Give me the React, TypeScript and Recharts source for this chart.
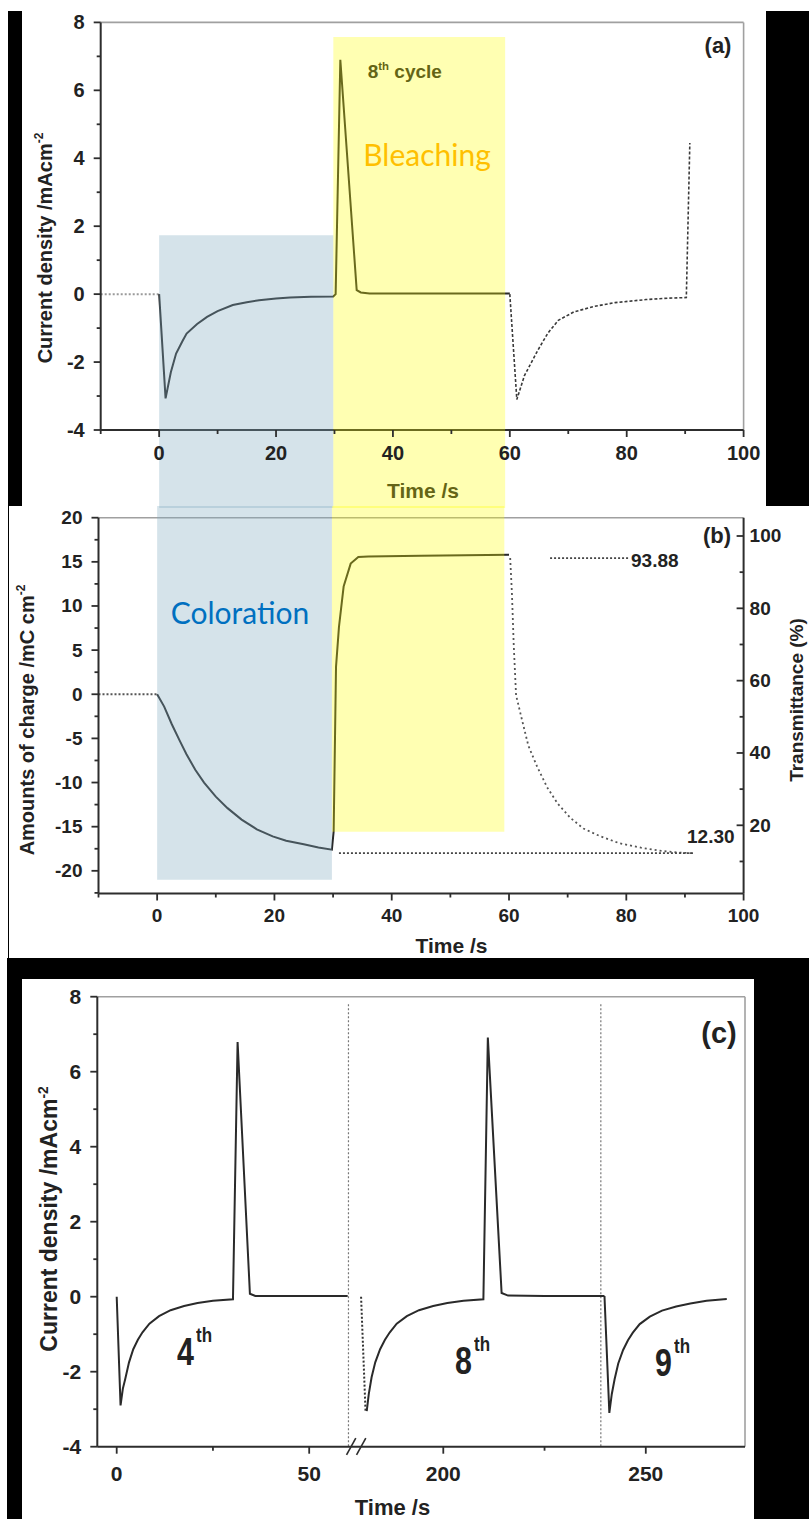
import React from 'react'
import { LineChart, Line, XAxis, YAxis, ReferenceArea, ReferenceLine } from 'recharts'

// ---------- panel (a): current density, 8th cycle ----------
const aLeadT = [-10, 0]
const aLeadI = [0, 0]
const aCycleT = [0, 1.1, 2, 2.9, 4, 4.7, 6.5, 8.2, 10, 12.6, 15, 17.1, 20, 22.4, 26, 29.8, 30.2, 31, 33.8, 34.5, 36, 40, 50, 60]
const aCycleI = [0, -3.07, -2.3, -1.75, -1.38, -1.16, -0.88, -0.67, -0.5, -0.32, -0.24, -0.18, -0.13, -0.1, -0.08, -0.07, 0, 6.9, 0.12, 0.05, 0.02, 0.02, 0.02, 0.02]
const aNextT = [60, 61.2, 62.5, 64.8, 66.5, 68.3, 71, 74.5, 78, 83.3, 87, 90.2, 90.8]
const aNextI = [0.0, -3.1, -2.4, -1.65, -1.15, -0.77, -0.52, -0.36, -0.25, -0.16, -0.12, -0.1, 4.45]

// ---------- panel (b): charge + transmittance ----------
const bLeadT = [-10, 0]
const bLeadQ = [0, 0]
const bChargeT = [0, 1.2, 2.5, 3.8, 5, 6.5, 8, 10, 12, 14.4, 17, 19.7, 22, 25, 27.5, 29.8, 30.1, 30.5, 31, 31.8, 33, 34.3, 36, 45, 60]
const bChargeQ = [0, -1.4, -3.4, -5.2, -6.8, -8.55, -10.0, -11.6, -12.9, -14.2, -15.3, -16.1, -16.6, -17.0, -17.35, -17.6, -15.5, 3.1, 7.6, 12.2, 14.8, 15.55, 15.6, 15.7, 15.8]
const bTransT = [60.2, 60.5, 60.8, 61.2, 62.1, 63.3, 64.8, 66.5, 68.3, 70.5, 72.7, 75.5, 78.9, 82.5, 86, 89.5, 91.2]
const bTransV = [93.9, 84, 70, 56, 49.9, 42, 36.2, 30.5, 26, 22, 19.1, 17, 15, 13.8, 12.9, 12.4, 12.3]
const bHigh = 93.88
const bLow = 12.3

// ---------- panel (c): 4th, 8th, 9th cycles, broken time axis ----------
const c4T = [0, 1, 1.6, 2.2, 3.2, 4.3, 5.5, 6.7, 8.5, 11, 14, 17.5, 21, 25, 30.2, 31.4, 34.6, 36, 45, 60]
const c4I = [0, -2.9, -2.45, -2.2, -1.75, -1.4, -1.15, -0.95, -0.72, -0.52, -0.36, -0.25, -0.17, -0.11, -0.07, 6.79, 0.08, 0.02, 0.02, 0.02]
const c8DropT = [179.7, 180.8]
const c8DropI = [0, -3.05]
const c8T = [181.1, 181.6, 182.3, 183.2, 184.4, 185.6, 186.8, 188.5, 191, 194, 197.5, 201, 205, 209.9, 211, 214.4, 216, 225, 239.8]
const c8I = [-3.05, -2.6, -2.15, -1.75, -1.4, -1.15, -0.95, -0.72, -0.52, -0.36, -0.25, -0.17, -0.11, -0.07, 6.91, 0.1, 0.03, 0.02, 0.02]
const c9T = [239.8, 241, 241.6, 242.3, 243.2, 244.4, 245.6, 246.8, 248.5, 251, 254, 257.5, 261, 265, 270]
const c9I = [0.02, -3.1, -2.6, -2.2, -1.78, -1.42, -1.16, -0.96, -0.73, -0.53, -0.37, -0.26, -0.18, -0.11, -0.06]
const cBoundT = [60.2, 238.9]
const cTicks = [0, 25, 50, 200, 225, 250]
const cTickLabels = ['0', '', '50', '200', '', '250']

const FONT = "'Liberation Sans', Arial, sans-serif"
const HUMAN = "Lato, 'Open Sans', sans-serif"
const INK = '#222'
const AXIS = '#2d2d2d'
const BORDER = '#a0a0a0'
const CURVE = '#2a2a2a'
const BLUE = '#7fa9c0'
const YELLOW = '#ffff00'

const pts = (xs: number[], ys: number[], k = 't') => xs.map((x, i) => ({ [k]: x, y: ys[i] }))

// broken axis: time before the break maps straight, after it is shifted and slightly stretched
const toU = (t: number) => (t < 120 ? t : 84.83 + (t - 200) * 1.052)

type Side = 'left' | 'right' | 'bottom'
function tickFor(side: Side, isMajor: (v: number) => boolean, label: (v: number) => string, fs: number, gap: number) {
  return function Tick(p: any) {
    const { x, y } = p
    const v = p.payload.value
    const major = isMajor(v)
    const len = major ? 7 : 4
    const text = major ? label(v) : ''
    const st = { fontFamily: FONT, fontWeight: 700, fontSize: fs, fill: INK }
    if (side === 'left')
      return (
        <g>
          <line x1={x - len} y1={y} x2={x} y2={y} stroke={AXIS} strokeWidth={1.8} />
          {text && <text x={x - gap} y={y} textAnchor="end" dominantBaseline="central" {...st}>{text}</text>}
        </g>
      )
    if (side === 'right')
      return (
        <g>
          <line x1={x - len} y1={y} x2={x} y2={y} stroke={AXIS} strokeWidth={1.8} />
          {text && <text x={x + gap} y={y} textAnchor="start" dominantBaseline="central" {...st}>{text}</text>}
        </g>
      )
    return (
      <g>
        <line x1={x} y1={y} x2={x} y2={y + len} stroke={AXIS} strokeWidth={1.8} />
        {text && <text x={x} y={y + gap} textAnchor="middle" dominantBaseline="central" {...st}>{text}</text>}
      </g>
    )
  }
}

const axisLine = { stroke: AXIS, strokeWidth: 2 }
const even = (v: number) => Math.abs(v % 2) < 1e-6
const str = (v: number) => String(v)

function Txt({ x, y, children, style, rot }: any) {
  return (
    <div
      style={{
        position: 'absolute',
        left: x,
        top: y,
        transform: `translate(-50%,-50%)${rot ? ' rotate(-90deg)' : ''}`,
        whiteSpace: 'nowrap',
        fontFamily: FONT,
        fontWeight: 700,
        color: INK,
        lineHeight: 1,
        ...style,
      }}
    >
      {children}
    </div>
  )
}

const sup = { fontSize: '0.6em', verticalAlign: '0.7em' }

function Nth({ x, y, n }: any) {
  return (
    <div style={{ position: 'absolute', left: x, top: y, whiteSpace: 'nowrap', fontFamily: FONT, fontWeight: 700, color: INK, lineHeight: 1 }}>
      <span style={{ display: 'inline-block', fontSize: 38, transform: 'scaleX(0.8)', transformOrigin: 'left' }}>{n}</span>
      <span style={{ position: 'absolute', left: 19, top: -8, fontSize: 20, display: 'inline-block', transform: 'scaleX(0.85)', transformOrigin: 'left' }}>th</span>
    </div>
  )
}

function PanelA() {
  const xTicks = [-10, 0, 10, 20, 30, 40, 50, 60, 70, 80, 90, 100]
  const yTicks = [-4, -3, -2, -1, 0, 1, 2, 3, 4, 5, 6, 7, 8]
  return (
    <LineChart width={809} height={508} margin={{ top: 22.4, right: 65.4, left: 0, bottom: 0 }}>
      <XAxis dataKey="t" type="number" domain={[-10, 100]} ticks={xTicks} allowDataOverflow height={78} interval={0}
        tickLine={false} tickSize={0} tickMargin={0} axisLine={axisLine}
        tick={tickFor('bottom', (v) => v >= 0 && v % 20 === 0, str, 20, 23)} />
      <YAxis type="number" domain={[-4, 8]} ticks={yTicks} allowDataOverflow width={100.7} interval={0}
        tickLine={false} tickSize={0} tickMargin={0} axisLine={axisLine}
        tick={tickFor('left', even, str, 20, 16)} />
      <ReferenceLine y={8} stroke={BORDER} strokeWidth={1.6} ifOverflow="visible" />
      <ReferenceLine x={100} stroke={BORDER} strokeWidth={1.6} ifOverflow="visible" />
      <Line data={pts(aLeadT, aLeadI)} dataKey="y" stroke="#9a9a9a" strokeWidth={2} strokeDasharray="2 2" dot={false} isAnimationActive={false} />
      <Line data={pts(aCycleT, aCycleI)} dataKey="y" stroke={CURVE} strokeWidth={2} dot={false} isAnimationActive={false} />
      <Line data={pts(aNextT, aNextI)} dataKey="y" stroke="#3a3a3a" strokeWidth={1.6} strokeDasharray="3 2" dot={false} isAnimationActive={false} />
      <ReferenceArea x1={0} x2={29.8} y1={1.73} y2={-7} fill={BLUE} fillOpacity={0.33} stroke="none" ifOverflow="visible" zIndex={1500} />
      <ReferenceArea x1={29.8} x2={59.2} y1={7.57} y2={-7} fill={YELLOW} fillOpacity={0.3} stroke="none" ifOverflow="visible" zIndex={1500} />
    </LineChart>
  )
}

function PanelB() {
  const xTicks = [-10, 0, 10, 20, 30, 40, 50, 60, 70, 80, 90, 100]
  const lTicks = [-22.5, -20, -17.5, -15, -12.5, -10, -7.5, -5, -2.5, 0, 2.5, 5, 7.5, 10, 12.5, 15, 17.5, 20]
  const rTicks = [10, 20, 30, 40, 50, 60, 70, 80, 90, 100]
  return (
    <LineChart width={809} height={452} margin={{ top: 11.7, right: 0, left: 0, bottom: 0 }}>
      <XAxis dataKey="t" type="number" domain={[-10, 100]} ticks={xTicks} allowDataOverflow height={64.5} interval={0}
        tickLine={false} tickSize={0} tickMargin={0} axisLine={axisLine}
        tick={tickFor('bottom', (v) => v >= 0 && v % 20 === 0, str, 19, 21.5)} />
      <YAxis yAxisId="left" type="number" domain={[-22.57, 20]} ticks={lTicks} allowDataOverflow width={98.5} interval={0}
        tickLine={false} tickSize={0} tickMargin={0} axisLine={axisLine}
        tick={tickFor('left', (v) => Math.abs(v % 5) < 1e-6, str, 19, 16)} />
      <YAxis yAxisId="right" orientation="right" type="number" domain={[1.14, 105.06]} ticks={rTicks} allowDataOverflow width={65.4} interval={0}
        tickLine={false} tickSize={0} tickMargin={0} axisLine={axisLine}
        tick={tickFor('right', (v) => v % 20 === 0, str, 19, 6)} />
      <ReferenceLine yAxisId="left" y={20} stroke={BORDER} strokeWidth={1.6} ifOverflow="visible" />
      <Line yAxisId="left" data={pts(bLeadT, bLeadQ)} dataKey="y" stroke="#555" strokeWidth={2} strokeDasharray="2 2" dot={false} isAnimationActive={false} />
      <Line yAxisId="left" data={pts(bChargeT, bChargeQ)} dataKey="y" stroke={CURVE} strokeWidth={2} dot={false} isAnimationActive={false} />
      <Line yAxisId="right" data={pts(bTransT, bTransV)} dataKey="y" stroke="#555" strokeWidth={1.8} strokeDasharray="2 3" dot={false} isAnimationActive={false} />
      <ReferenceLine yAxisId="right" segment={[{ x: 67, y: bHigh }, { x: 80.6, y: bHigh }]} stroke="#444" strokeWidth={1.8} strokeDasharray="2 2" ifOverflow="visible" />
      <ReferenceLine yAxisId="right" segment={[{ x: 31, y: bLow }, { x: 91.5, y: bLow }]} stroke="#444" strokeWidth={1.8} strokeDasharray="2 2" ifOverflow="visible" />
      <ReferenceArea yAxisId="left" x1={0} x2={29.8} y1={25} y2={-21} fill={BLUE} fillOpacity={0.33} stroke="none" ifOverflow="visible" zIndex={1500} />
      <ReferenceArea yAxisId="left" x1={29.8} x2={59.2} y1={25} y2={-15.58} fill={YELLOW} fillOpacity={0.3} stroke="none" ifOverflow="visible" zIndex={1500} />
    </LineChart>
  )
}

function PanelC() {
  const xTicks = cTicks.map(toU)
  const yTicks = [-4, -3, -2, -1, 0, 1, 2, 3, 4, 5, 6, 7, 8]
  const labelOf = (u: number) => cTickLabels[xTicks.findIndex((w) => Math.abs(w - u) < 1e-6)] ?? ''
  const uMax = 163.2
  return (
    <LineChart width={809} height={559} margin={{ top: 36.7, right: 64, left: 0, bottom: 0 }}>
      <XAxis dataKey="u" type="number" domain={[-5.04, uMax]} ticks={xTicks} allowDataOverflow height={72.3} interval={0}
        tickLine={false} tickSize={0} tickMargin={0} axisLine={axisLine}
        tick={tickFor('bottom', (u) => labelOf(u) !== '', labelOf, 21, 26.6)} />
      <YAxis type="number" domain={[-4, 8]} ticks={yTicks} allowDataOverflow width={97.3} interval={0}
        tickLine={false} tickSize={0} tickMargin={0} axisLine={axisLine}
        tick={tickFor('left', even, str, 21, 16)} />
      <ReferenceLine y={8} stroke={BORDER} strokeWidth={1.6} ifOverflow="visible" />
      <ReferenceLine x={uMax} stroke={BORDER} strokeWidth={1.6} ifOverflow="visible" />
      {cBoundT.map((t) => (
        <ReferenceLine key={t} segment={[{ x: toU(t), y: 7.8 }, { x: toU(t), y: -4 }]} stroke="#777" strokeWidth={1.2} strokeDasharray="2 2" ifOverflow="visible" />
      ))}
      {[59.7, 62.3].map((u) => (
        <ReferenceLine key={u} segment={[{ x: u, y: -4.22 }, { x: u + 2.4, y: -3.77 }]} stroke={AXIS} strokeWidth={1.6} ifOverflow="visible" />
      ))}
      <Line data={pts(c4T.map(toU), c4I, 'u')} dataKey="y" stroke={CURVE} strokeWidth={2} dot={false} isAnimationActive={false} />
      <Line data={pts(c8DropT.map(toU), c8DropI, 'u')} dataKey="y" stroke="#333" strokeWidth={2} strokeDasharray="2 2" dot={false} isAnimationActive={false} />
      <Line data={pts(c8T.map(toU), c8I, 'u')} dataKey="y" stroke={CURVE} strokeWidth={2} dot={false} isAnimationActive={false} />
      <Line data={pts(c9T.map(toU), c9I, 'u')} dataKey="y" stroke={CURVE} strokeWidth={2} dot={false} isAnimationActive={false} />
    </LineChart>
  )
}

export default function App() {
  const abs = (l: number, t: number, w: number, h: number, bg: string) => ({ position: 'absolute' as const, left: l, top: t, width: w, height: h, background: bg })
  return (
    <div style={{ position: 'absolute', left: 0, top: 0, width: 809, height: 1519, background: '#fff', overflow: 'hidden', fontFamily: FONT }}>
      {/* frame pieces of the composite figure */}
      <div style={abs(7.7, 11, 14, 495, '#000')} />
      <div style={abs(765.7, 11, 43.3, 495, '#000')} />
      <div style={{ ...abs(7.7, 506, 802, 452.5, 'transparent'), borderLeft: '1.5px solid #000' }} />
      <div style={abs(7, 958, 802, 561, '#000')} />
      <div style={abs(21.7, 979.3, 732.3, 540, '#fff')} />

      {/* text lying under the shaded bands */}
      <Txt x={718} y={46} style={{ fontSize: 22 }}>(a)</Txt>
      <div style={{ position: 'absolute', left: 367.7, top: 61, whiteSpace: 'nowrap', fontWeight: 700, fontSize: 19, color: INK, lineHeight: 1 }}>
        8<span style={sup}>th</span> cycle
      </div>
      <Txt x={423} y={490} style={{ fontSize: 21 }}>Time /s</Txt>
      <Txt x={44} y={248} rot style={{ fontSize: 20 }}>Current density /mAcm<span style={sup}>-2</span></Txt>

      <Txt x={717} y={536} style={{ fontSize: 22 }}>(b)</Txt>
      <div style={{ position: 'absolute', left: 631, top: 551, fontWeight: 700, fontSize: 19, color: INK, lineHeight: 1 }}>{bHigh.toFixed(2)}</div>
      <div style={{ position: 'absolute', left: 687, top: 827, fontWeight: 700, fontSize: 19, color: INK, lineHeight: 1 }}>{bLow.toFixed(2)}</div>
      <Txt x={451.5} y={945} style={{ fontSize: 21 }}>Time /s</Txt>
      <Txt x={26} y={720} rot style={{ fontSize: 20 }}>Amounts of charge /mC cm<span style={sup}>-2</span></Txt>
      <Txt x={796} y={700} rot style={{ fontSize: 19 }}>Transmittance (%)</Txt>

      <Txt x={719} y={1033} style={{ fontSize: 29 }}>(c)</Txt>
      <Txt x={48.5} y={1219} rot style={{ fontSize: 23 }}>Current density /mAcm<span style={sup}>-2</span></Txt>
      <Txt x={392.5} y={1508} style={{ fontSize: 22 }}>Time /s</Txt>
      <Nth x={177} y={1333} n="4" />
      <Nth x={455} y={1342} n="8" />
      <Nth x={655} y={1344} n="9" />

      <div style={{ position: 'absolute', left: 0, top: 0 }}><PanelA /></div>
      <div style={{ position: 'absolute', left: 0, top: 506 }}><PanelB /></div>
      <div style={{ position: 'absolute', left: 0, top: 960 }}><PanelC /></div>

      {/* band captions drawn over the shading */}
      <Txt x={427} y={154} style={{ fontFamily: HUMAN, fontWeight: 400, fontSize: 30, color: '#ffc000' }}>Bleaching</Txt>
      <Txt x={240} y={612} style={{ fontFamily: HUMAN, fontWeight: 400, fontSize: 30, color: '#0070c0' }}>Coloration</Txt>
    </div>
  )
}
